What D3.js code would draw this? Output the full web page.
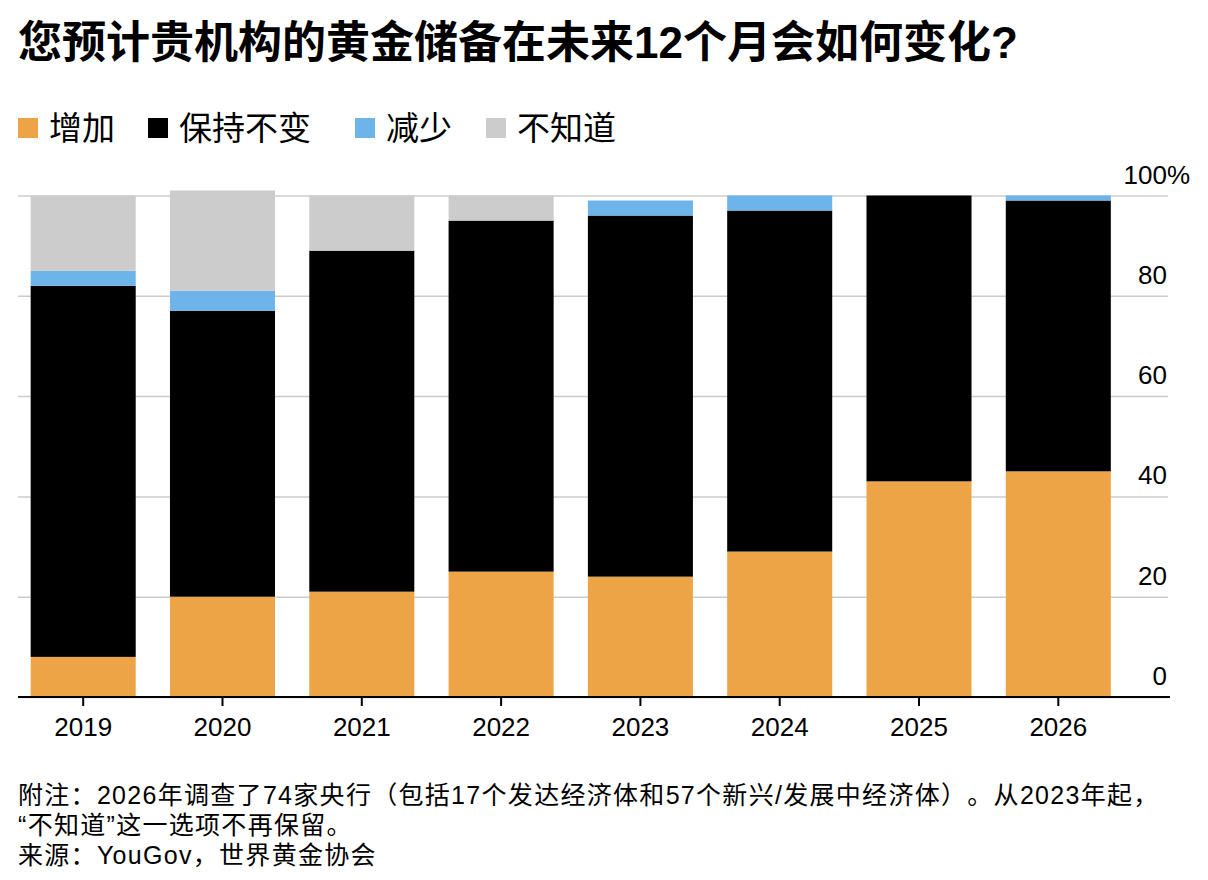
<!DOCTYPE html>
<html lang="zh">
<head>
  <meta charset="UTF-8">
  <title>黄金储备预期</title>
  <script src="https://d3js.org/d3.v7.min.js"></script>
  <style>
    body { margin: 0; background: #fff; }
    text { font-family: "Liberation Sans", "Noto Sans CJK SC", sans-serif; text-spacing-trim: space-all; }
  </style>
</head>
<body>
<script>
  const years = ["2019", "2020", "2021", "2022", "2023", "2024", "2025", "2026"];
  const increase = [8, 20, 21, 25, 24, 29, 43, 45];
  const maintain = [74, 57, 68, 70, 72, 68, 57, 54];
  const decrease = [3, 4, 0, 0, 3, 3, 0, 1];
  const dontKnow = [15, 20, 11, 5, 0, 0, 0, 0];
  const seriesNames = ["增加", "保持不变", "减少", "不知道"];
  const colors = ["#eca446", "#000000", "#6db4ea", "#cccccc"];
  const yTicks = [0, 20, 40, 60, 80, 100];

  const W = 1208, H = 880;
  const svg = d3.select("body").append("svg")
    .attr("width", W).attr("height", H);

  // title
  svg.append("text")
    .attr("x", 18).attr("y", 58)
    .style("font-size", "44px").style("font-weight", "bold")
    .text("您预计贵机构的黄金储备在未来12个月会如何变化?");

  // legend
  const legX = [18, 148, 355, 486];
  seriesNames.forEach((name, i) => {
    svg.append("rect")
      .attr("x", legX[i]).attr("y", 118)
      .attr("width", 20).attr("height", 20)
      .attr("fill", colors[i]);
    svg.append("text")
      .attr("x", legX[i] + 31).attr("y", 140)
      .style("font-size", "33px")
      .text(name);
  });

  const table = years.map((y, i) => ({
    year: y, s0: increase[i], s1: maintain[i], s2: decrease[i], s3: dontKnow[i]
  }));
  const stack = d3.stack().keys(["s0", "s1", "s2", "s3"])(table);

  const x = d3.scaleBand()
    .domain(years)
    .range([18, 1123.5])
    .paddingInner(0.246)
    .paddingOuter(0.091);

  const y = d3.scaleLinear().domain([0, 100]).range([697, 195.5]);

  // gridlines + right labels
  const yAxis = svg.append("g")
    .attr("transform", "translate(1168,0)")
    .call(d3.axisLeft(y).tickValues(yTicks).tickSize(1150).tickFormat(""));
  yAxis.select(".domain").remove();
  yAxis.selectAll(".tick line").attr("stroke", "#cccccc").attr("stroke-width", 1.5);

  svg.selectAll(".ylab")
    .data(yTicks)
    .enter().append("text")
    .attr("class", "ylab")
    .attr("x", 1167)
    .attr("y", d => y(d) - 12)
    .attr("text-anchor", "end")
    .style("font-size", "26px")
    .text(d => d);
  svg.append("text")
    .attr("x", 1167).attr("y", y(100) - 12)
    .style("font-size", "26px")
    .text("%");

  // bars
  svg.append("g").selectAll("g")
    .data(stack)
    .enter().append("g")
    .attr("fill", (d, i) => colors[i])
    .selectAll("rect")
    .data(d => d)
    .enter().append("rect")
    .attr("x", d => x(d.data.year))
    .attr("width", x.bandwidth())
    .attr("y", d => y(d[1]))
    .attr("height", d => y(d[0]) - y(d[1]));

  // x axis
  const xAxis = svg.append("g")
    .attr("transform", "translate(0,697)")
    .call(d3.axisBottom(x).tickSize(9).tickPadding(12));
  xAxis.select(".domain").remove();
  xAxis.selectAll(".tick line").attr("stroke", "#000").attr("stroke-width", 2);
  xAxis.selectAll(".tick text")
    .style("font-family", "'Liberation Sans', Arial, sans-serif")
    .style("font-size", "26px")
    .attr("fill", "#000");
  svg.append("line")
    .attr("x1", 18).attr("x2", 1170)
    .attr("y1", 697).attr("y2", 697)
    .attr("stroke", "#000").attr("stroke-width", 2);

  // footer
  const notes = [
    "附注：2026年调查了74家央行（包括17个发达经济体和57个新兴/发展中经济体）。从2023年起，",
    "“不知道”这一选项不再保留。",
    "来源：YouGov，世界黄金协会"
  ];
  svg.selectAll(".note")
    .data(notes)
    .enter().append("text")
    .attr("class", "note")
    .attr("x", 18)
    .attr("y", (d, i) => 804 + i * 30)
    .style("font-size", "25px")
    .style("letter-spacing", "1.3px")
    .text(d => d);
</script>
</body>
</html>
